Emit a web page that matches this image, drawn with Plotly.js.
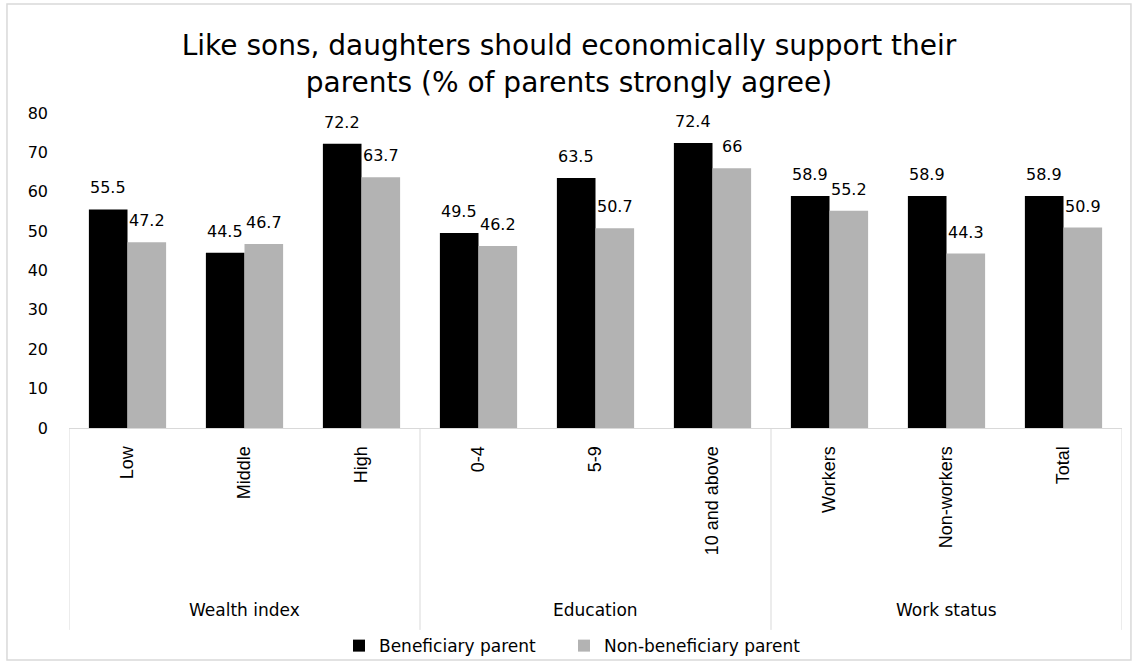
<!DOCTYPE html>
<html>
<head>
<meta charset="utf-8">
<script src="https://cdn.plot.ly/plotly-3.0.1.min.js"></script>
<style>html,body{margin:0;padding:0;background:#fff;}#chart{width:1138px;height:664px;}</style>
</head>
<body>
<div id="chart"></div>
<script>
const categories = ["Low", "Middle", "High", "0-4", "5-9", "10 and above", "Workers", "Non-workers", "Total"];
const groups = ["Wealth index", "Education", "Work status"];
const groupSizes = [3, 3, 3];
const beneficiary = [55.5, 44.5, 72.2, 49.5, 63.5, 72.4, 58.9, 58.9, 58.9];
const nonBeneficiary = [47.2, 46.7, 63.7, 46.2, 50.7, 66, 55.2, 44.3, 50.9];
const seriesNames = ["Beneficiary parent", "Non-beneficiary parent"];
const yTicks = [0, 10, 20, 30, 40, 50, 60, 70, 80];

const labelFont = {family: "DejaVu Sans", size: 16, color: "#000"};
const catFont = {family: "Liberation Sans", size: 18, color: "#000"};
const legendFont = {family: "DejaVu Sans", size: 17, color: "#000"};

const traces = [
  {type: "bar", name: seriesNames[0], x: categories, y: beneficiary, marker: {color: "#000000"}, legend: "legend"},
  {type: "bar", name: seriesNames[1], x: categories, y: nonBeneficiary, marker: {color: "#b3b3b3"}, legend: "legend2"}
];

const annotations = [];
[beneficiary, nonBeneficiary].forEach((vals, s) => {
  vals.forEach((v, i) => {
    annotations.push({
      x: categories[i], y: v, xref: "x", yref: "y",
      text: String(v), showarrow: false,
      xshift: s === 0 ? -19.5 : 19.5, yshift: 10,
      yanchor: "bottom", font: labelFont
    });
  });
});

const shapes = [];
const lineColor = "#d9d9d9";
let start = 0;
const boundaries = [-0.5];
groupSizes.forEach((n, g) => {
  annotations.push({
    x: start + (n - 1) / 2, y: -0.578, xref: "x", yref: "paper",
    text: groups[g], showarrow: false, yanchor: "middle",
    font: {family: "DejaVu Sans", size: 17, color: "#000"}
  });
  start += n;
  boundaries.push(start - 0.5);
});
boundaries.forEach(b => {
  shapes.push({type: "line", xref: "x", yref: "paper", x0: b, x1: b, y0: 0, y1: -0.641,
    line: {color: lineColor, width: 1}});
});
// outer chart border
shapes.push({type: "rect", xref: "paper", yref: "paper", x0: -0.0589, x1: 1.0085, y0: -0.7365, y1: 1.346,
  line: {color: "#d9d9d9", width: 1.5}, fillcolor: "rgba(0,0,0,0)"});

const layout = {
  width: 1138, height: 664,
  margin: {l: 69, r: 16, t: 113, b: 236, autoexpand: false},
  paper_bgcolor: "#fff", plot_bgcolor: "#fff",
  title: {
    text: "Like sons, daughters should economically support their<br>parents (% of parents strongly agree)",
    font: {family: "DejaVu Sans", size: 28, color: "#000"},
    x: 0.5, xanchor: "center", y: 0.917, yanchor: "middle"
  },
  barmode: "group", bargap: 0.34, bargroupgap: 0,
  showlegend: true,
  legend: {orientation: "h", x: 339 / 1138, xanchor: "left", xref: "container",
    y: 0.027, yanchor: "middle", yref: "container", font: legendFont, bgcolor: "rgba(0,0,0,0)"},
  legend2: {orientation: "h", x: 564 / 1138, xanchor: "left", xref: "container",
    y: 0.027, yanchor: "middle", yref: "container", font: legendFont, bgcolor: "rgba(0,0,0,0)"},
  xaxis: {
    type: "category", range: [-0.5, 8.5], tickangle: -90, tickfont: catFont,
    showline: true, linecolor: lineColor, linewidth: 1, ticks: "", showgrid: false,
    ticklabelstandoff: 10, fixedrange: true
  },
  yaxis: {
    range: [0, 80], tickvals: yTicks, ticktext: yTicks.map(String),
    tickfont: {family: "DejaVu Sans", size: 16, color: "#000"},
    showgrid: false, zeroline: false, showline: false, ticks: "",
    ticklabelstandoff: 20, fixedrange: true
  },
  annotations: annotations,
  shapes: shapes
};

Plotly.newPlot("chart", traces, layout, {displayModeBar: false, staticPlot: true});
</script>
</body>
</html>
